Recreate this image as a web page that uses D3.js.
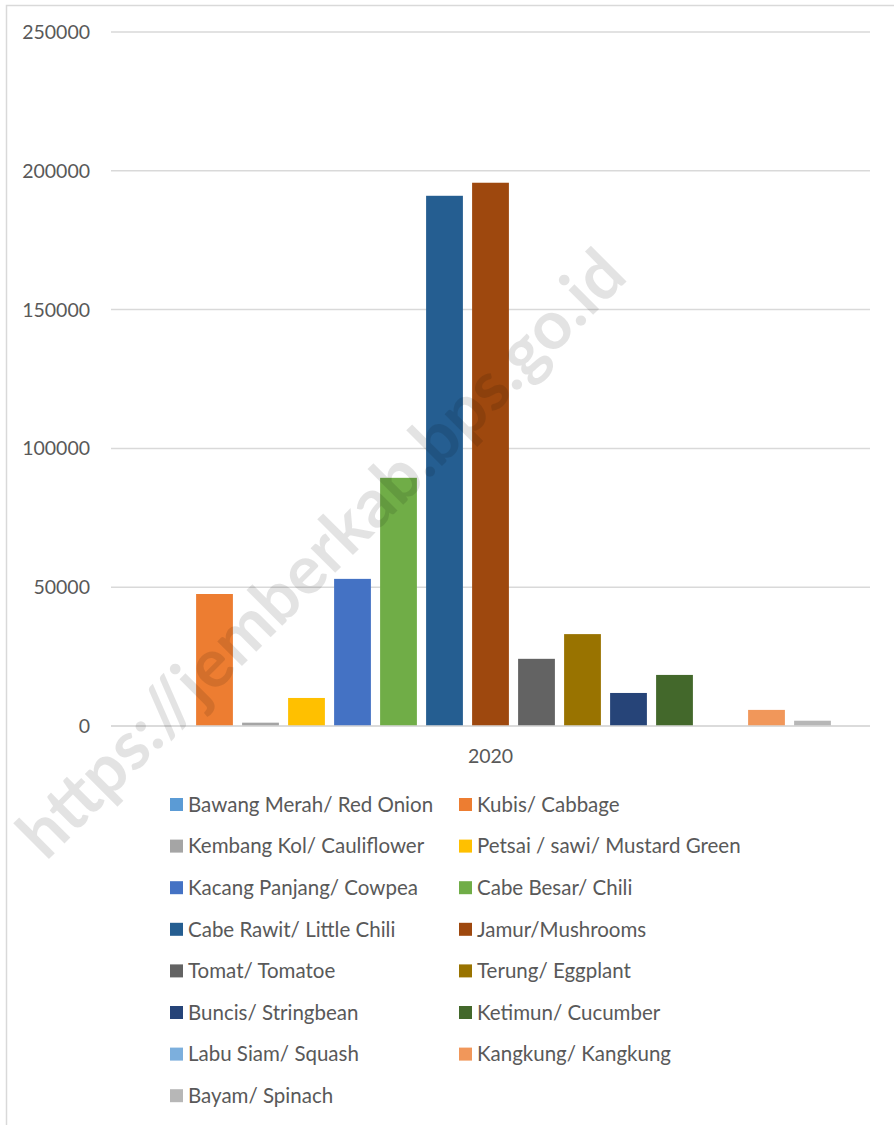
<!DOCTYPE html>
<html>
<head>
<meta charset="utf-8">
<script src="https://cdn.jsdelivr.net/npm/d3@7"></script>
<style>
  html, body { margin: 0; padding: 0; background: #fff; }
  svg { display: block; }
  text { font-family: Lato, "Open Sans", sans-serif; fill: #595959; }
</style>
</head>
<body>
<svg id="chart" width="894" height="1125"></svg>
<script>
const categories = ["2020"];
const seriesNames = [
  "Bawang Merah/ Red Onion", "Kubis/ Cabbage",
  "Kembang Kol/ Cauliflower", "Petsai / sawi/ Mustard Green",
  "Kacang Panjang/ Cowpea", "Cabe Besar/ Chili",
  "Cabe Rawit/ Little Chili", "Jamur/Mushrooms",
  "Tomat/ Tomatoe", "Terung/ Eggplant",
  "Buncis/ Stringbean", "Ketimun/ Cucumber",
  "Labu Siam/ Squash", "Kangkung/ Kangkung",
  "Bayam/ Spinach"
];
const seriesValues = [0, 47550, 1200, 10100, 53000, 89400, 191000, 195700, 24200, 33100, 11900, 18400, 0, 5800, 1900];
const seriesColors = ["#5B9BD5", "#ED7D31", "#A5A5A5", "#FFC000", "#4472C4", "#70AD47", "#255E91", "#9E480E", "#636363", "#997300", "#264478", "#43682B", "#7CAFDD", "#F1975A", "#B7B7B7"];
const yTicks = [0, 50000, 100000, 150000, 200000, 250000];
const watermark = "https://jemberkab.bps.go.id";

const svg = d3.select("#chart");

// outer chart border
svg.append("rect")
  .attr("x", 6.5).attr("y", 5.5)
  .attr("width", 900).attr("height", 1130)
  .attr("fill", "none").attr("stroke", "#d9d9d9").attr("stroke-width", 1.5);

const plot = { left: 111, right: 870, top: 32, bottom: 726 };

const y = d3.scaleLinear().domain([0, 250000]).range([plot.bottom, plot.top]);
const x0 = d3.scaleBand().domain(categories).range([plot.left, plot.right]).padding(0);
const x1 = d3.scaleBand().domain(seriesNames).range([0, x0.bandwidth()])
  .paddingInner(0.2).paddingOuter(0.85);

// gridlines
svg.append("g").selectAll("line").data(yTicks).join("line")
  .attr("x1", plot.left).attr("x2", plot.right)
  .attr("y1", d => y(d)).attr("y2", d => y(d))
  .attr("stroke", "#d9d9d9").attr("stroke-width", 1.5);

// y labels
svg.append("g").selectAll("text").data(yTicks).join("text")
  .attr("x", 90).attr("y", d => y(d))
  .attr("dy", "0.36em")
  .attr("text-anchor", "end")
  .attr("font-size", 19.5)
  .text(d => d);

// bars
const data = seriesNames.map((s, i) => ({ s, v: seriesValues[i], c: seriesColors[i] }));
const g = svg.append("g");
categories.forEach(cat => {
  g.selectAll("rect.bar").data(data).join("rect")
    .attr("class", "bar")
    .attr("x", d => x0(cat) + x1(d.s))
    .attr("width", x1.bandwidth())
    .attr("y", d => y(d.v))
    .attr("height", d => y(0) - y(d.v))
    .attr("fill", d => d.c);
});

// baseline
svg.append("line")
  .attr("x1", plot.left).attr("x2", plot.right)
  .attr("y1", y(0)).attr("y2", y(0))
  .attr("stroke", "#d9d9d9").attr("stroke-width", 1.5);

// category label
svg.append("g").selectAll("text").data(categories).join("text")
  .attr("x", d => x0(d) + x0.bandwidth() / 2)
  .attr("y", 756).attr("dy", "0.36em")
  .attr("text-anchor", "middle")
  .attr("font-size", 19.5)
  .text(d => d);

// legend
const leg = svg.append("g");
data.forEach((d, i) => {
  const col = i % 2, row = Math.floor(i / 2);
  const sx = col === 0 ? 170 : 459;
  const cy = 804.5 + row * 41.6;
  leg.append("rect").attr("x", sx).attr("y", cy - 6.5).attr("width", 13).attr("height", 13).attr("fill", d.c);
  leg.append("text").attr("x", sx + 18).attr("y", cy).attr("dy", "0.36em")
    .attr("font-size", 20.5).text(d.s);
});

// watermark
svg.append("text")
  .attr("transform", "translate(46,862) rotate(-45)")
  .attr("font-family", "'Liberation Sans', Arial, sans-serif")
  .attr("font-weight", "bold")
  .attr("font-size", 68)
  .style("fill", "#000")
  .style("fill-opacity", 0.11)
  .text(watermark);
</script>
</body>
</html>
